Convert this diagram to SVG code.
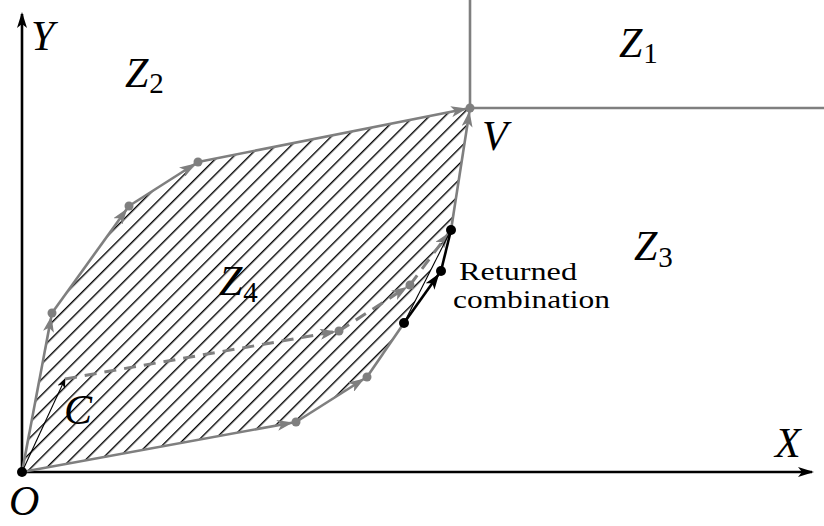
<svg xmlns="http://www.w3.org/2000/svg" width="824" height="526" viewBox="0 0 824 526">
<style>
.ax{stroke:#000;stroke-width:2.6;fill:none}
.g{stroke:#7f7f7f;stroke-width:2.6;fill:none}
.gd{stroke:#7f7f7f;stroke-width:3;fill:none;stroke-dasharray:12 8}
.k{stroke:#000;stroke-width:2.6;fill:none}
.kt{stroke:#000;stroke-width:1.1;fill:none}
.dot{fill:#7f7f7f}
.bd{fill:#000}
.m{font-family:"Liberation Serif","Times New Roman",Times,serif;font-style:italic;font-size:42px;fill:#000}
.s{font-family:"Liberation Serif","Times New Roman",Times,serif;font-style:normal;font-size:29px;fill:#000}
.t{font-family:"Liberation Serif","Times New Roman",Times,serif;font-size:26px;fill:#000}
</style>
<defs>
<pattern id="hatch" patternUnits="userSpaceOnUse" width="11" height="11" patternTransform="rotate(45)">
<line x1="0.7" y1="0" x2="0.7" y2="11" stroke="#000" stroke-width="1.4"/>
</pattern>
<marker id="ag" markerUnits="userSpaceOnUse" viewBox="0 0 16 11" markerWidth="16" markerHeight="11" refX="19" refY="5.5" orient="auto">
<path d="M0,0 L16,5.5 L0,11 L4,5.5 z" fill="#7f7f7f"/>
</marker>
<marker id="ak" markerUnits="userSpaceOnUse" viewBox="0 0 16 11" markerWidth="16" markerHeight="11" refX="19" refY="5.5" orient="auto">
<path d="M0,0 L16,5.5 L0,11 L4,5.5 z" fill="#000"/>
</marker>
<marker id="ax" markerUnits="userSpaceOnUse" viewBox="0 0 16 10" markerWidth="16" markerHeight="10" refX="14" refY="5" orient="auto">
<path d="M0,0 L16,5 L0,10 L4,5 z" fill="#000"/>
</marker>
<marker id="as" markerUnits="userSpaceOnUse" viewBox="0 0 10 8" markerWidth="10" markerHeight="8" refX="9" refY="4" orient="auto">
<path d="M0,0 L10,4 L0,8 L3,4 z" fill="#000"/>
</marker>
</defs>

<g id="region-Z4-hatch">
<polygon points="22,472 52,313 129,206 198,162 470,108 451,230 404,323 367,377 296,422" fill="url(#hatch)" stroke="none"/>
</g>

<g id="zone-boundaries">
<line class="g" x1="470" y1="108" x2="824" y2="108"/>
<line class="g" x1="470" y1="108" x2="470" y2="0"/>
</g>

<g id="axes">
<line class="ax" x1="22" y1="472" x2="812" y2="472" marker-end="url(#ax)"/>
<line class="ax" x1="22" y1="472" x2="22" y2="14" marker-end="url(#ax)"/>
</g>

<g id="connectors">
<g id="upper-path">
<line class="g" x1="22" y1="472" x2="52" y2="313" marker-end="url(#ag)"/>
<line class="g" x1="52" y1="313" x2="129" y2="206" marker-end="url(#ag)"/>
<line class="g" x1="129" y1="206" x2="198" y2="162" marker-end="url(#ag)"/>
<line class="g" x1="198" y1="162" x2="470" y2="108" marker-end="url(#ag)"/>
</g>
<g id="lower-path">
<line class="g" x1="22" y1="472" x2="296" y2="422" marker-end="url(#ag)"/>
<line class="g" x1="296" y1="422" x2="367" y2="377" marker-end="url(#ag)"/>
<line class="g" x1="367" y1="377" x2="404" y2="323"/>
<line class="g" x1="451" y1="230" x2="470" y2="108" marker-end="url(#ag)"/>
</g>
<g id="dashed-path">
<line class="kt" x1="22" y1="472" x2="65" y2="379" marker-end="url(#as)"/>
<line class="gd" x1="65" y1="379" x2="339" y2="331" marker-end="url(#ag)"/>
<line class="gd" x1="339" y1="331" x2="410" y2="285" marker-end="url(#ag)"/>
<line class="gd" x1="410" y1="285" x2="451" y2="230" stroke-dasharray="6 6" stroke-width="2" marker-end="url(#ag)"/>
</g>
<g id="returned-path">
<line class="kt" x1="404" y1="323" x2="451" y2="230"/>
<line class="k" x1="404" y1="323" x2="441" y2="271" marker-end="url(#ak)"/>
<line class="k" x1="441" y1="271" x2="451" y2="230"/>
</g>
</g>

<g id="points">
<circle class="dot" cx="52" cy="313" r="4.5"/>
<circle class="dot" cx="129" cy="206" r="4.5"/>
<circle class="dot" cx="198" cy="162" r="4.5"/>
<circle class="dot" cx="470" cy="108" r="4.5"/>
<circle class="dot" cx="296" cy="422" r="4.5"/>
<circle class="dot" cx="367" cy="377" r="4.5"/>
<circle class="dot" cx="339" cy="331" r="4.5"/>
<circle class="dot" cx="410" cy="285" r="4.5"/>
<circle class="bd" cx="404" cy="323" r="5"/>
<circle class="bd" cx="441" cy="271" r="5"/>
<circle class="bd" cx="451" cy="230" r="5"/>
<circle class="bd" cx="22" cy="472" r="5"/>
</g>

<g id="labels">
<text class="m" x="31" y="50">Y</text>
<text class="m" x="775" y="457">X</text>
<text class="m" x="9" y="515">O</text>
<text class="m" x="482" y="150">V</text>
<text class="m" x="64" y="424">C</text>
<text x="125" y="87"><tspan class="m">Z</tspan><tspan class="s" dx="1" dy="6">2</tspan></text>
<text x="619" y="57"><tspan class="m">Z</tspan><tspan class="s" dx="1" dy="6">1</tspan></text>
<text x="634" y="260"><tspan class="m">Z</tspan><tspan class="s" dx="1" dy="7">3</tspan></text>
<text x="219" y="295"><tspan class="m">Z</tspan><tspan class="s" dx="1" dy="7">4</tspan></text>
<text class="t" x="459" y="280" textLength="118" lengthAdjust="spacingAndGlyphs">Returned</text>
<text class="t" x="453" y="308" textLength="157" lengthAdjust="spacingAndGlyphs">combination</text>
</g>
</svg>
